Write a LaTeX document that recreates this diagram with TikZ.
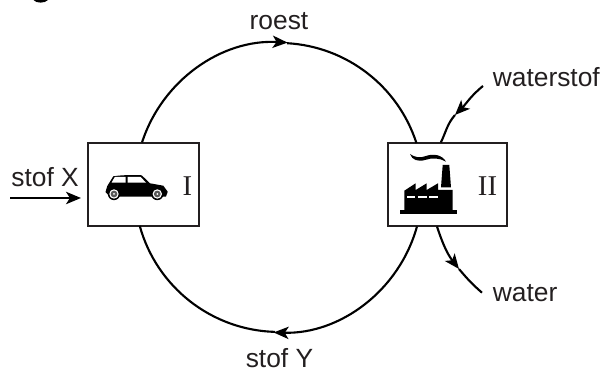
\documentclass[tikz,border=0pt]{standalone}
\usepackage{fontspec}
\setmainfont{Liberation Serif}
\newfontfamily\labelfont{Liberation Sans}
\usepackage{xcolor}
\usetikzlibrary{arrows.meta}
\definecolor{inkc}{HTML}{231F20}
\tikzset{
 flowline/.style={draw=black,line width=1.2pt},
 flowtip/.style={-{Stealth[length=8.5pt,width=7pt,inset=2.2pt]}},
 stage/.style={draw=inkc,line width=0.6pt,minimum width=0.02cm*119,minimum height=0.02cm*83,inner sep=0pt,fill=white},
 lab/.style={inner sep=0pt,text=inkc,anchor=base,font=\labelfont\fontsize{15}{17}\selectfont},
 num/.style={inner sep=0pt,text=inkc,font=\fontsize{16.3}{18}\selectfont}
}
\begin{document}
\begin{tikzpicture}[x=0.02cm,y=0.02cm]
\useasboundingbox (0,0) rectangle (603,371);
\fill[black] (33.5,371) .. controls (36,367.5) and (45,367.5) .. (48,371) -- cycle;
\node[stage,minimum width=0.02cm*111] (boxI) at (143.5,186.5) {};
\node[stage] (boxII) at (447.5,186.5) {};
\node[num] (numI) at (187.5,185) {I};
\node[num] (numII) at (487.5,184.5) {II};
\node[lab] (roest) at (279,341) {roest};
\node[lab] (stofY) at (279.5,3) {stof Y};
\node[lab,anchor=base west] (stofX) at (11,184) {stof X};
\node[lab,anchor=base west] (waterstof) at (492.5,284) {waterstof};
\node[lab,anchor=base west] (water) at (492.5,69) {water};
\coordinate (top) at (287,327.8);
\coordinate (bottom) at (275,39.1);
\coordinate (xstart) at (10,173);
\coordinate (xtip) at (81,173);
\coordinate (wsstart) at (483,285);
\coordinate (wstip) at (455,256);
\coordinate (wtip) at (459,102);
\coordinate (wend) at (482,78.3);
\draw[flowline,flowtip] (boxI.92.8) arc[start angle=162.1,end angle=86.8,radius=144.5];
\draw[flowline] (top) arc[start angle=86.8,end angle=17.9,radius=144.5];
\draw[flowline,flowtip] (boxII.234.9) arc[start angle=-15.45,end angle=-91.6,radius=144.5];
\draw[flowline] (bottom) arc[start angle=-91.6,end angle=-164.55,radius=144.5];
\draw[flowline,flowtip] (xstart) -- (xtip);
\draw[flowline,flowtip] (wsstart) to[out=219,in=45] (wstip);
\draw[flowline] (wstip) to[out=229,in=64] (boxII.99.3);
\draw[flowline,flowtip] (boxII.256.7) to[out=-72,in=128] (wtip);
\draw[flowline] (wtip) to[out=-50,in=139] (wend);
\begin{scope}[shift={(0,371)},yscale=-1]
\fill[black] (105.5,192) -- (107.3,186) -- (113.3,176.3) .. controls (122,175) and (133,174.8) .. (141.7,175.3) -- (150,183.3) -- (163.3,185.7) -- (167.7,191.7) -- (166,196.7) -- (110,196.7) -- cycle;
\fill[white] (111.5,182.7) -- (114.8,177) -- (125.7,177) -- (125.7,182.7) -- cycle;
\fill[white] (127.7,177) -- (140.7,177) -- (146,182.7) -- (127.7,182.7) -- cycle;
\foreach \wx in {114,157.3} {
\fill[black] (\wx,194) circle (6.2);
\fill[white] (\wx,194) circle (4.7);
\fill[black!65] (\wx,194) circle (3.4);
\fill[white] (\wx,194) circle (1);
}
\fill[black] (400.3,210) rectangle (457.3,214);
\fill[black] (404.3,190.7) -- (415.7,183.3) -- (415.7,190) -- (426.7,183.3) -- (426.7,190) -- (438,183.3) -- (438,190) -- (452.7,190) -- (452.7,210) -- (404.3,210) -- cycle;
\fill[black] (442.7,165) -- (449.3,165) -- (451,187.3) -- (441,187.3) -- cycle;
\foreach \wl in {406.7,418.3,429.3} {
\fill[white] (\wl,195.7) rectangle ++(8.5,2.3);
}
\fill[black] (410,154) .. controls (414,157) and (420,158.5) .. (426,156) .. controls (433,153.5) and (442,154.5) .. (446,161.7) .. controls (440,158) and (432,157.5) .. (425,160) .. controls (418,162) and (412,160) .. (410,154) -- cycle;
\end{scope}
\end{tikzpicture}
\end{document}
